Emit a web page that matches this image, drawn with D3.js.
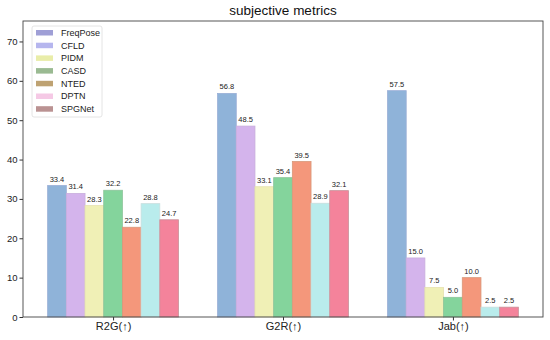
<!DOCTYPE html>
<html><head><meta charset="utf-8">
<script src="https://cdn.jsdelivr.net/npm/d3@7"></script>
<style>body{margin:0;background:#fff;} text{font-family:"Liberation Sans",Arial,sans-serif;}</style>
</head><body><svg id="c" width="550" height="340"></svg>
<script>
const categories = ["R2G(↑)", "G2R(↑)", "Jab(↑)"];
const series = ["FreqPose", "CFLD", "PIDM", "CASD", "NTED", "DPTN", "SPGNet"];
const FreqPose = [33.4, 56.8, 57.5];
const CFLD = [31.4, 48.5, 15.0];
const PIDM = [28.3, 33.1, 7.5];
const CASD = [32.2, 35.4, 5.0];
const NTED = [22.8, 39.5, 10.0];
const DPTN = [28.8, 28.9, 2.5];
const SPGNet = [24.7, 32.1, 2.5];
const values = [FreqPose, CFLD, PIDM, CASD, NTED, DPTN, SPGNet];
const yTicks = [0, 10, 20, 30, 40, 50, 60, 70];
const barColors = ["#8fb3d9", "#d4b4ec", "#f0f0b6", "#84d49c", "#f4977b", "#b9ecec", "#f4839b"];
const barEdges = ["#9aaed6", "#c8aedc", "#e6e2b0", "#8cc49a", "#d8987a", "#c8dede", "#c89098"];
const legendColors = ["#9f9fd6", "#b6b6ee", "#e9eda9", "#9aba92", "#bea272", "#f5c9e5", "#ba9292"];

const svg = d3.select("#c");
const L = 23, R = 543, T = 21, B = 317;
const x = d3.scaleLinear().domain([-0.53, 2.53]).range([L, R]);
const y = d3.scaleLinear().domain([0, 75.2]).range([B, T]);
const bw = 0.11;

// bars
values.forEach((vals, si) => {
  const g = svg.append("g");
  vals.forEach((v, ci) => {
    const cx = ci + (si - 3) * bw;
    g.append("rect")
      .attr("x", x(cx - bw / 2)).attr("width", x(cx + bw / 2) - x(cx - bw / 2))
      .attr("y", y(v)).attr("height", y(0) - y(v))
      .attr("fill", barColors[si]).attr("stroke", barEdges[si]).attr("stroke-width", 0.8);
    g.append("text").attr("x", x(cx)).attr("y", y(v) - 4)
      .attr("text-anchor", "middle").attr("font-size", 7.5).attr("fill", "#222")
      .text(v.toFixed(1));
  });
});

// axes
const yAxis = d3.axisLeft(y).tickValues(yTicks).tickSize(3.5).tickPadding(2);
const ya = svg.append("g").attr("transform", `translate(${L},0)`).call(yAxis);
ya.select(".domain").remove();
ya.selectAll("text").attr("font-size", 9.5).attr("fill", "#222").style("font-family", "Liberation Sans, Arial, sans-serif");
ya.selectAll("line").attr("stroke", "#333");

const xAxis = d3.axisBottom(x).tickValues([0, 1, 2]).tickFormat(i => categories[i]).tickSize(3.5).tickPadding(2);
const xa = svg.append("g").attr("transform", `translate(0,${B})`).call(xAxis);
xa.select(".domain").remove();
xa.selectAll("text").attr("font-size", 11).attr("fill", "#222").style("font-family", "Liberation Sans, Arial, sans-serif");
xa.selectAll("line").attr("stroke", "#333");

svg.append("rect").attr("x", L).attr("y", T).attr("width", R - L).attr("height", B - T)
  .attr("fill", "none").attr("stroke", "#444").attr("stroke-width", 0.9);

// title
svg.append("text").attr("x", (L + R) / 2).attr("y", 15).attr("text-anchor", "middle")
  .attr("font-size", 13.5).attr("fill", "#111").text("subjective metrics");

// legend
const lg = svg.append("g");
lg.append("rect").attr("x", 32).attr("y", 26).attr("width", 70).attr("height", 91)
  .attr("fill", "#fff").attr("fill-opacity", 0.85).attr("stroke", "#ddd").attr("stroke-width", 0.8).attr("rx", 2);
series.forEach((s, i) => {
  const yy = 32.5 + i * 12.7;
  lg.append("rect").attr("x", 36).attr("y", yy - 2.5).attr("width", 17).attr("height", 5.5).attr("fill", legendColors[i]);
  lg.append("text").attr("x", 61).attr("y", yy + 3.3).attr("font-size", 9).attr("fill", "#222").text(s);
});
</script></body></html>
